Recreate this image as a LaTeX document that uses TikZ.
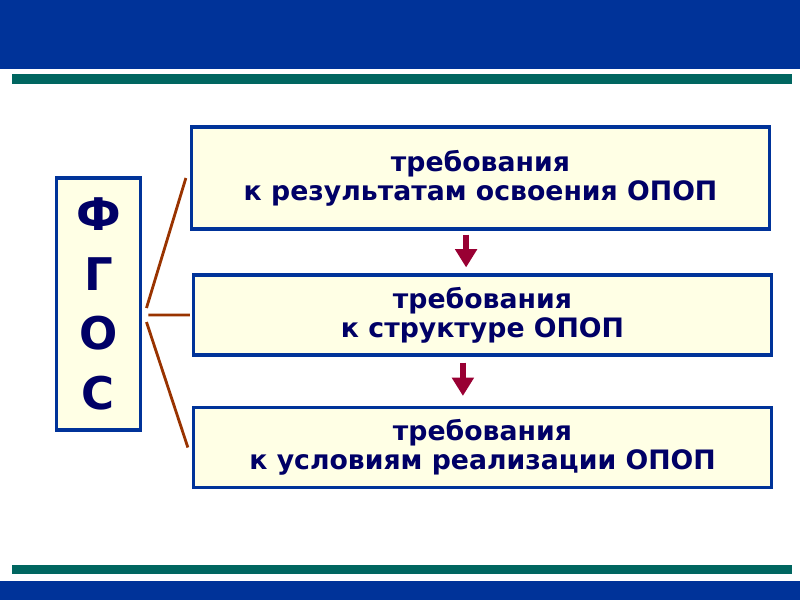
\documentclass[tikz,border=0pt]{standalone}
\usepackage{fontspec}
\setmainfont{DejaVu Sans}
\usetikzlibrary{arrows.meta}
\definecolor{bandblue}{RGB}{0,51,153}
\definecolor{bandteal}{RGB}{0,102,96}
\definecolor{boxfill}{RGB}{255,255,229}
\definecolor{textnavy}{RGB}{0,0,102}
\definecolor{linkbrown}{RGB}{153,51,0}
\definecolor{arrowred}{RGB}{153,0,51}
\begin{document}
\begin{tikzpicture}[x=0.025cm,y=-0.025cm,
  req/.style={draw=bandblue, line width=2.2pt, fill=boxfill, minimum width=14.45cm,
    text=textnavy, font=\bfseries\fontsize{19}{20.5}\selectfont, align=center},
  link/.style={linkbrown, line width=2pt},
  down/.style={arrowred, line width=4.8pt, -{Triangle[width=15pt,length=13pt]}}]

\useasboundingbox (0,0) rectangle (800,600);
\fill[bandblue] (0,0) rectangle (800,69);
\fill[bandteal] (12,74) rectangle (792,84);
\fill[bandteal] (12,565) rectangle (792,574);
\fill[bandblue] (0,581) rectangle (800,600);

\node[draw=bandblue, line width=2.8pt, fill=boxfill, minimum width=2.1cm, minimum height=6.3cm,
  text=textnavy, font=\bfseries\fontsize{32}{42.5}\selectfont, align=center] (fgos) at (98.5,304) {Ф\\Г\\О\\С};

\node[req, minimum height=2.55cm] (res) at (480.5,178) {требования\\к результатам освоения ОПОП};
\node[req, minimum height=2cm] (str) at (482.5,315) {требования\\к структуре ОПОП};
\node[req, minimum height=2cm] (usl) at (482.5,447.5) {требования\\к условиям реализации ОПОП};

\draw[link] ([xshift=0.1cm,yshift=-0.1cm]fgos.east) -- ([xshift=-0.1cm]res.west);
\draw[link] ([xshift=0.15cm,yshift=-0.275cm]fgos.east) -- ([xshift=-0.05cm]str.west);
\draw[link] ([xshift=0.1cm,yshift=-0.45cm]fgos.east) -- ([xshift=-0.1cm]usl.west);

\coordinate (a1) at ([xshift=-0.36cm,yshift=-0.1cm]res.south);
\coordinate (a2) at ([xshift=-0.49cm,yshift=-0.15cm]str.south);
\draw[down, shorten >=0.15cm] (a1) -- (a1 |- str.north);
\draw[down, shorten >=0.25cm] (a2) -- (a2 |- usl.north);
\end{tikzpicture}
\end{document}
